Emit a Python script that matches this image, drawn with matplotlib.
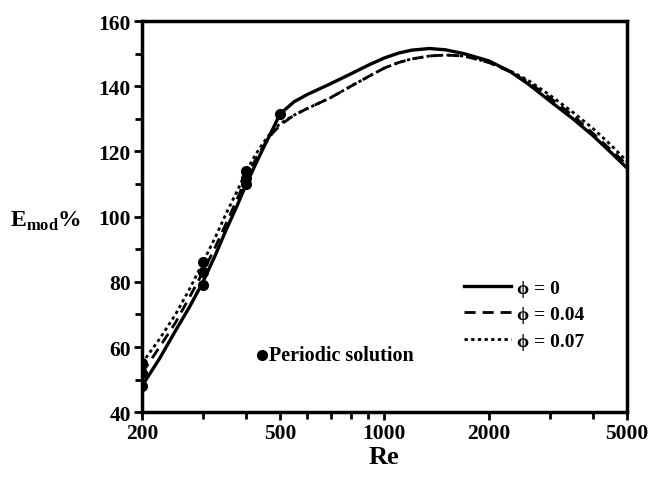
import matplotlib
matplotlib.use('Agg')
import matplotlib.pyplot as plt
from matplotlib.ticker import FixedLocator, FixedFormatter, NullFormatter, MultipleLocator

# Reynolds number grid and efficiency curves
re_vals = [200, 225, 250, 275, 300, 325, 350, 375, 400, 425, 450, 475, 500, 550, 600, 700, 800, 900,
           1000, 1100, 1200, 1350, 1500, 1700, 2000, 2300, 2600, 3000, 3500, 4000, 4500, 5000]
e_phi0 = [48, 56.5, 65, 72.5, 80, 88, 96, 103, 110, 116, 121.5, 126.5, 131.5, 135.3, 137.5, 140.8, 143.8, 146.5,
          148.7, 150.2, 151.1, 151.6, 151.2, 150, 147.8, 144.6, 140.7, 135.5, 130, 124.8, 119.7, 115]
e_phi004 = [52, 60, 67.5, 75.5, 83, 90.5, 98, 105, 112, 117.5, 122, 125.5, 128, 131.2, 133.2, 136.5, 140, 143,
            145.6, 147.3, 148.4, 149.3, 149.6, 149.3, 147.3, 144.5, 141.3, 136.5, 131, 125.5, 120.5, 116]
e_phi007 = [55, 62.5, 70, 78, 86, 93.5, 101, 107.5, 114, 119, 123, 126.2, 128.5, 131.2, 133.2, 136.5, 140, 143,
            145.6, 147.3, 148.4, 149.3, 149.6, 149.3, 147.4, 144.8, 141.8, 137.3, 132, 127, 122, 117]

# periodic solution points
per_re = [200, 200, 200, 300, 300, 300, 400, 400, 400, 500]
per_e = [48, 52, 55, 79, 83, 86, 110, 112, 114, 131.5]

plt.rcParams['font.family'] = ['Liberation Serif', 'DejaVu Serif']
plt.rcParams['font.weight'] = 'bold'
plt.rcParams['mathtext.fontset'] = 'custom'
plt.rcParams['mathtext.rm'] = 'Liberation Serif:bold'
plt.rcParams['mathtext.bf'] = 'Liberation Serif:bold'

fig = plt.figure(figsize=(6.57, 4.81), dpi=100)
ax = fig.add_axes([0.216, 0.141, 0.738, 0.813])

ax.plot(re_vals, e_phi0, color='black', lw=2.4, label='ϕ = 0')
ax.plot(re_vals, e_phi004, color='black', lw=2.0, dashes=(4, 2.5), label='ϕ = 0.04')
ax.plot(re_vals, e_phi007, color='black', lw=2.0, dashes=(1.2, 1.2), label='ϕ = 0.07')
ax.plot(per_re, per_e, 'o', color='black', ms=7)

ax.set_xscale('log')
ax.set_xlim(200, 5000)
ax.set_ylim(40, 160)

ax.xaxis.set_major_locator(FixedLocator([200, 500, 1000, 2000, 5000]))
ax.xaxis.set_minor_locator(FixedLocator([300, 400, 600, 700, 800, 900, 3000, 4000]))
ax.xaxis.set_major_formatter(FixedFormatter(['200', '500', '1000', '2000', '5000']))
ax.xaxis.set_minor_formatter(NullFormatter())
ax.yaxis.set_major_locator(MultipleLocator(20))
ax.yaxis.set_minor_locator(MultipleLocator(10))

ax.tick_params(which='both', direction='out', width=2, top=False, right=False)
ax.tick_params(which='major', length=6, labelsize=15.5, pad=2)
ax.tick_params(which='minor', length=5)
for lab in ax.get_xticklabels() + ax.get_yticklabels():
    lab.set_fontweight('bold')
for sp in ax.spines.values():
    sp.set_linewidth(2.5)

ax.set_xlabel('Re', fontsize=19, fontweight='bold', labelpad=1)
fig.text(0.015, 0.54, r'$\mathrm{E}_{\mathrm{mod}}\%$', fontsize=17, ha='left', va='center')

leg = ax.legend(loc='upper left', bbox_to_anchor=(0.665, 0.34), frameon=False, fontsize=14,
                handlelength=2.4, handletextpad=0.3, borderpad=0, borderaxespad=0, labelspacing=0.45)
for t in leg.get_texts():
    t.set_fontweight('bold')

ax.plot([0.247], [0.145], 'o', color='black', ms=7, transform=ax.transAxes)
ax.text(0.262, 0.145, 'Periodic solution', transform=ax.transAxes, fontsize=14.5,
        fontweight='bold', va='center', ha='left')

fig.savefig('out.png', dpi=100)
